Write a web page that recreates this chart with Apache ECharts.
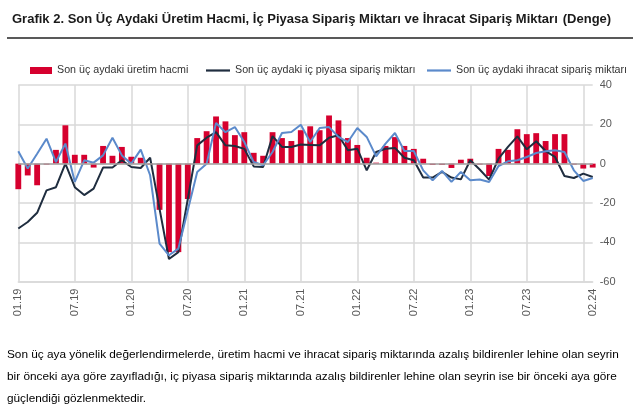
<!DOCTYPE html>
<html>
<head>
<meta charset="utf-8">
<script src="https://cdn.jsdelivr.net/npm/echarts@6/dist/echarts.min.js"></script>
<style>html,body{margin:0;padding:0;background:#fff}#c{width:633px;height:404px}</style>
</head>
<body>
<div id="c"></div>
<script>
const categories = [
 "01.19","02.19","03.19","04.19","05.19","06.19","07.19","08.19","09.19","10.19","11.19","12.19",
 "01.20","02.20","03.20","04.20","05.20","06.20","07.20","08.20","09.20","10.20","11.20","12.20",
 "01.21","02.21","03.21","04.21","05.21","06.21","07.21","08.21","09.21","10.21","11.21","12.21",
 "01.22","02.22","03.22","04.22","05.22","06.22","07.22","08.22","09.22","10.22","11.22","12.22",
 "01.23","02.23","03.23","04.23","05.23","06.23","07.23","08.23","09.23","10.23","11.23","12.23",
 "01.24","02.24"];
const shownLabels = ["01.19","07.19","01.20","07.20","01.21","07.21","01.22","07.22","01.23","07.23","02.24"];
const gridMonths = ["01.19","07.19","01.20","07.20","01.21","07.21","01.22","07.22","01.23","07.23","01.24"];

const uretimHacmi = [
 -13,-6,-11,-0.5,7,19.5,4.5,4.5,-2,9,4,8.5,
 3.5,3,-0.5,-23.5,-45,-45,-18,13,16.5,24,21.5,14.5,
 16,5.5,4,16,13,11.5,17,19,17,24.5,22,13,
 9.5,3,0.5,9,13.5,9,7.5,2.5,-0.7,-0.7,-2.2,2,
 2.5,-0.5,-6.3,7.5,7,17.5,15,15.5,11.5,15,15,-0.5,
 -2.5,-2];
const icPiyasa = [
 -33,-29.7,-25,-13.6,-12,0,-12,-16,-12.7,-2,-2,1.7,
 -1.7,-2.2,3,-23,-48.5,-45,-18,9.3,13.2,16,9.3,9,
 7.5,-1.4,-1.7,14,8.5,8.5,9.7,9.5,9.3,13.2,14.4,6.8,
 7.6,-3.4,5.9,7.6,8,3,1.7,-7.1,-7.1,-4.2,-7.1,-8,
 1.7,-3,-8.1,2.5,8.5,13.9,7.3,11.4,6.4,3.4,-6.3,-7.3,
 -5.1,-6.8];
const ihracat = [
 6.3,-2.5,5,12.7,0.8,10.2,-9.3,1.7,0.5,4.2,13.2,4.2,
 0,7.1,-5.9,-40.7,-46.6,-43.2,-23.7,-4.2,0,20.7,16,18.6,
 11,0.8,-0.8,5.9,15.6,16.1,19.8,11,18.1,18.6,13.6,11,
 18.1,13.6,3.7,10.2,15.6,6.4,6.4,-3.4,-8.5,-3.7,-9.3,-4.2,
 -8.5,-8.1,-9.3,-1.2,1.2,1.7,3.4,5.4,6.3,6.8,5.9,-3.4,
 -8.8,-7.3];
const yTicks = [-60,-40,-20,0,20,40];

const NAMES = ['Son üç aydaki üretim hacmi','Son üç aydaki iç piyasa sipariş miktarı','Son üç aydaki ihracat sipariş miktarı'];
const FONT = "'Liberation Sans', Arial, sans-serif";
const legendText = {fontSize:10.7,color:'#333',fontFamily:FONT};
const chart = echarts.init(document.getElementById('c'), null, {renderer:'canvas'});
chart.setOption({
  animation:false,
  backgroundColor:'#fff',
  textStyle:{fontFamily:FONT},
  title:{
    left:7, top:5,
    text:'{b|Grafik 2. Son Üç Aydaki Üretim Hacmi, İç Piyasa Sipariş Miktarı ve İhracat Sipariş Miktarı} {n|(Denge)}',
    textStyle:{rich:{
      b:{fontFamily:FONT,fontWeight:'bold',fontSize:13,color:'#1a1a1a'},
      n:{fontFamily:FONT,fontSize:13,color:'#1a1a1a'}
    }}
  },
  graphic:[
    {type:'rect',shape:{x:7,y:37,width:626,height:2},style:{fill:'#595959'},silent:true},
    {type:'text',left:7,top:349,style:{text:'Son üç aya yönelik değerlendirmelerde, üretim hacmi ve ihracat sipariş miktarında azalış bildirenler lehine olan seyrin',font:'11.8px '+FONT,fill:'#000'}},
    {type:'text',left:7,top:371,style:{text:'bir önceki aya göre zayıfladığı, iç piyasa sipariş miktarında azalış bildirenler lehine olan seyrin ise bir önceki aya göre',font:'11.8px '+FONT,fill:'#000'}},
    {type:'text',left:7,top:393,style:{text:'güçlendiği gözlenmektedir.',font:'11.8px '+FONT,fill:'#000'}}
  ],
  legend:[
    {left:25, top:60, itemWidth:22, itemHeight:7, textStyle:legendText, data:[{name:NAMES[0],icon:'rect'}]},
    {left:201, top:60, itemWidth:24, itemHeight:7, textStyle:legendText, symbolKeepAspect:true,
     data:[{name:NAMES[1],icon:'path://M0,0 L24,0 L24,2.2 L0,2.2 Z'}]},
    {left:422, top:60, itemWidth:24, itemHeight:7, textStyle:legendText, symbolKeepAspect:true,
     data:[{name:NAMES[2],icon:'path://M0,0 L24,0 L24,2.2 L0,2.2 Z'}]}
  ],
  grid:{left:18.3, top:85, width:574.4, height:196.6, containLabel:false},
  xAxis:{
    type:'category', data:categories, boundaryGap:false,
    axisLine:{onZero:false, lineStyle:{color:'#d9d9d9',width:1.5}},
    axisTick:{show:false},
    axisLabel:{
      rotate:90, fontSize:11, color:'#595959', margin:7,
      interval:(i,v)=>shownLabels.indexOf(v)>=0,
      fontFamily:FONT
    },
    splitLine:{show:true, interval:(i,v)=>gridMonths.indexOf(v)>=0, lineStyle:{color:'#d9d9d9',width:1.5}}
  },
  yAxis:{
    type:'value', position:'right', min:-60, max:40, interval:20,
    axisLine:{show:false}, axisTick:{show:false},
    axisLabel:{fontSize:11,color:'#595959',margin:7,fontFamily:FONT},
    splitLine:{lineStyle:{color:'#d9d9d9',width:1.5}}
  },
  series:[
    {name:NAMES[0], type:'bar', data:uretimHacmi, barWidth:'62%',
     itemStyle:{color:'#D6002E'}, clip:true,
     markLine:{silent:true, symbol:'none', label:{show:false},
       lineStyle:{color:'#a6a6a6',width:1.5,type:'solid'}, data:[{yAxis:0}]}},
    {name:NAMES[1], type:'line', data:icPiyasa, symbol:'none',
     lineStyle:{color:'#1F2D3F',width:2}, itemStyle:{color:'#1F2D3F'}, z:3},
    {name:NAMES[2], type:'line', data:ihracat, symbol:'none',
     lineStyle:{color:'#5B8ACB',width:2}, itemStyle:{color:'#5B8ACB'}, z:4}
  ]
});
</script>
</body>
</html>
